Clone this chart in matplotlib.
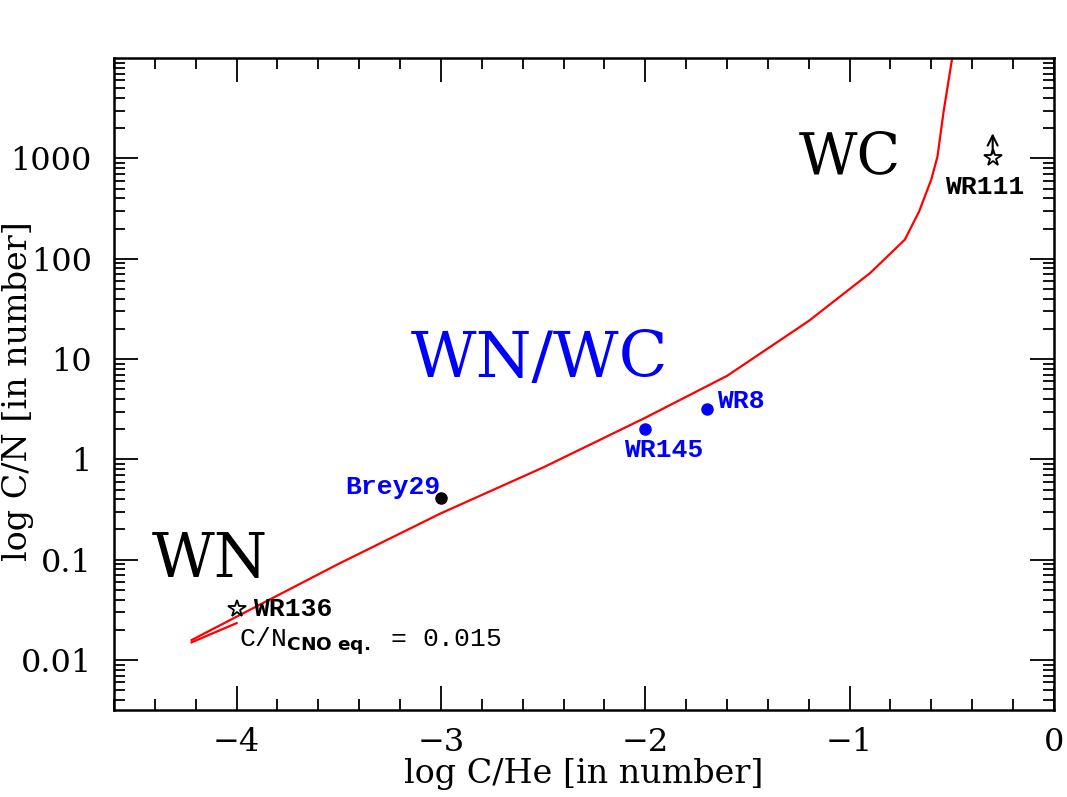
import matplotlib
matplotlib.use("Agg")
import matplotlib.pyplot as plt
from matplotlib.ticker import FixedLocator, LogLocator, MultipleLocator, NullFormatter

# evolutionary track (log C/He, C/N)
track_x = [-4.22, -4.0, -3.5, -3.0, -2.5, -2.0, -1.6, -1.2, -0.9, -0.73, -0.66, -0.6, -0.57, -0.54, -0.5]
track_y = [0.0158, 0.027, 0.091, 0.29, 0.83, 2.6, 6.8, 24, 72, 155, 296, 620, 1050, 2950, 9500]
# short parallel segment at the start of the track
start_x = [-4.22, -4.0]
start_y = [0.0150, 0.0233]

# stars
blue_names = ["WR145", "WR8"]
blue_x = [-2.0, -1.70]
blue_y = [2.0, 3.2]
brey_x, brey_y = -3.0, 0.41
wr136_x, wr136_y = -4.0, 0.032
wr111_x, wr111_y = -0.30, 1000

ytick_vals = [0.01, 0.1, 1, 10, 100, 1000]
ytick_labels = ["0.01", "0.1", "1", "10", "100", "1000"]
xtick_vals = [-4, -3, -2, -1, 0]
xtick_labels = ["\u22124", "\u22123", "\u22122", "\u22121", "0"]

serif = "DejaVu Serif"
mono = "Liberation Mono"

fig = plt.figure(figsize=(10.67, 7.97), dpi=100)
ax = fig.add_axes([0.1068, 0.109, 0.881, 0.818])
ax.set_yscale("log")
ax.set_xlim(-4.6, 0)
ax.set_ylim(10 ** -2.5, 10 ** 4)

ax.plot(track_x, track_y, color="red", lw=1.6)
ax.plot(start_x, start_y, color="red", lw=1.6)

ax.plot(blue_x, blue_y, "o", color="blue", ms=8)
ax.plot(brey_x, brey_y, "o", color="black", ms=8)
ax.plot(wr136_x, wr136_y, marker="*", color="black", mfc="white", mew=1.3, ms=13, ls="none")
ax.plot(wr111_x, wr111_y, marker="*", color="black", mfc="white", mew=1.3, ms=13, ls="none")
ax.annotate("", xy=(wr111_x, wr111_y * 1.9), xytext=(wr111_x, wr111_y * 1.05),
            arrowprops=dict(arrowstyle="->", color="black", lw=1.5, mutation_scale=18))

# star labels
lab = dict(fontsize=19, family=mono, fontweight="bold", va="center")
ax.text(-1.65, 3.85, "WR8", color="blue", ha="left", **lab)
ax.text(-1.91, 1.25, "WR145", color="blue", ha="center", **lab)
ax.text(-3.0, 0.53, "Brey29", color="blue", ha="right", **lab)
ax.text(-3.92, 0.032, "WR136", color="black", ha="left", **lab)
ax.text(-0.34, 525, "WR111", color="black", ha="center", **lab)
ax.text(-3.99, 0.0152, r"C/N$_{\mathbf{CNO\ eq.}}$ = 0.015", color="black", fontsize=19,
        family=mono, ha="left", va="center")

# region labels
ax.text(-1.0, 1020, "WC", color="black", fontsize=41, family=serif, ha="center", va="center")
ax.text(-4.13, 0.1, "WN", color="black", fontsize=44, family=serif, ha="center", va="center")
ax.text(-2.52, 10, "WN/WC", color="blue", fontsize=46, family=serif, ha="center", va="center")

ax.yaxis.set_major_locator(FixedLocator(ytick_vals))
ax.set_yticklabels(ytick_labels)
ax.yaxis.set_minor_locator(LogLocator(base=10, subs=range(2, 10), numticks=20))
ax.yaxis.set_minor_formatter(NullFormatter())
ax.set_xticks(xtick_vals)
ax.set_xticklabels(xtick_labels)
ax.xaxis.set_minor_locator(MultipleLocator(0.2))

ax.tick_params(which="both", direction="in", top=True, right=True, width=1.3, labelsize=23)
ax.tick_params(which="major", length=17)
ax.tick_params(which="minor", length=8)
ax.tick_params(axis="y", which="major", pad=16)
ax.tick_params(axis="x", which="major", pad=12)
for t in ax.get_xticklabels() + ax.get_yticklabels():
    t.set_family(serif)
for s in ax.spines.values():
    s.set_linewidth(1.8)

ax.set_xlabel("log C/He [in number]", fontsize=24, family=serif)
ax.set_ylabel("log C/N [in number]", fontsize=24, family=serif)
ax.xaxis.set_label_coords(0.5, -0.073)
ax.yaxis.label.set_va("center")
ax.yaxis.set_label_coords(-0.102, 0.49)

fig.savefig("out.png", dpi=100)
